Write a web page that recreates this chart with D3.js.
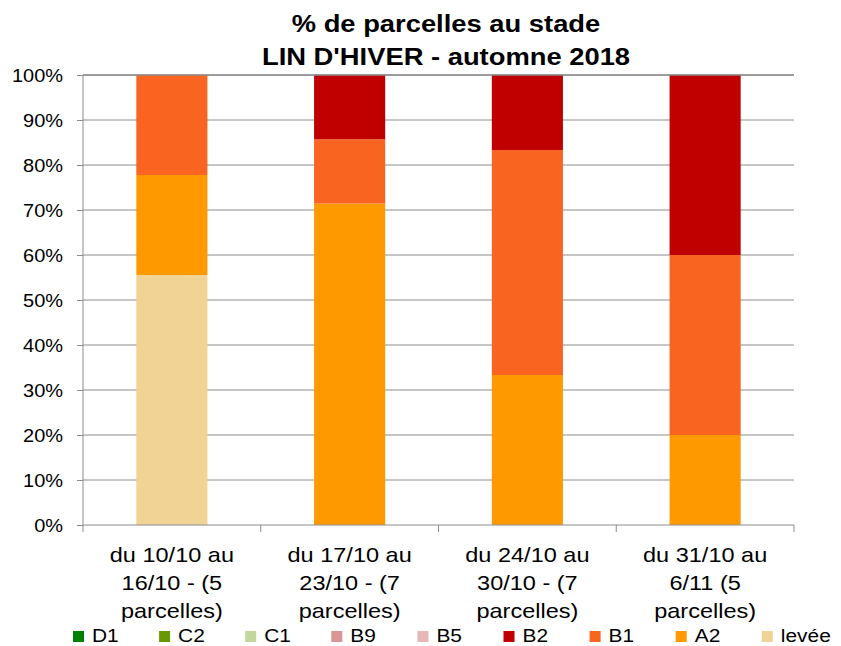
<!DOCTYPE html>
<html><head><meta charset="utf-8">
<script src="https://cdn.jsdelivr.net/npm/d3@7"></script>
<style>body{margin:0;background:#fff;} text{font-family:"Liberation Sans",Arial,sans-serif;}</style>
</head><body>
<svg id="c" width="841" height="646"></svg>
<script>
const categories = [
  ["du 10/10 au", "16/10 - (5", "parcelles)"],
  ["du 17/10 au", "23/10 - (7", "parcelles)"],
  ["du 24/10 au", "30/10 - (7", "parcelles)"],
  ["du 31/10 au", "6/11 (5", "parcelles)"]
];
const seriesNames = ["D1","C2","C1","B9","B5","B2","B1","A2","levée"];
const seriesColors = ["#008000","#669900","#c3d69b","#d99694","#e6b9b8","#c00000","#f96421","#ff9900","#f2d396"];
// values per series (fractions), one per category
const D1 = [0,0,0,0];
const C2 = [0,0,0,0];
const C1 = [0,0,0,0];
const B9 = [0,0,0,0];
const B5 = [0,0,0,0];
const B2 = [0,0.1429,0.1667,0.40];
const B1 = [0.2222,0.1429,0.50,0.40];
const A2 = [0.2222,0.7143,0.3333,0.20];
const levee = [0.5556,0,0,0];
const yTicks = [0,0.1,0.2,0.3,0.4,0.5,0.6,0.7,0.8,0.9,1.0];
const title = ["% de parcelles au stade","LIN D'HIVER - automne 2018"];

const seriesValues = [D1,C2,C1,B9,B5,B2,B1,A2,levee];
const svg = d3.select("#c");
const m = {l:83, r:794, t:75, b:525};
const x = d3.scaleBand().domain(d3.range(categories.length)).range([m.l,m.r]).paddingInner(0.6).paddingOuter(0.3);
const xb = d3.scaleBand().domain(d3.range(categories.length)).range([m.l,m.r]);
const y = d3.scaleLinear().domain([0,1]).range([m.b,m.t]);

// stretched text helper (reference text is horizontally wider than Arial)
function stext(g, tx, ty, str, size, sx, anchor, weight){
  return g.append("text").attr("transform",`translate(${tx},${ty}) scale(${sx},1)`)
    .attr("text-anchor",anchor).attr("font-size",size+"px").attr("font-weight",weight||"normal")
    .attr("fill","#000").text(str);
}

// gridlines
svg.append("g").selectAll("line").data(yTicks.slice(1)).join("line")
  .attr("x1",m.l).attr("x2",m.r).attr("y1",d=>y(d)).attr("y2",d=>y(d))
  .attr("stroke","#8c8c8c").attr("stroke-width",1);

// stacks (bottom: levée, A2, B1, B2, ... D1 on top)
const order = d3.range(seriesNames.length).reverse();
categories.forEach((c,i)=>{
  let cum = 0;
  order.forEach(s=>{
    const v = seriesValues[s][i];
    if(v>0){
      svg.append("rect").attr("x",x(i)).attr("width",x.bandwidth())
        .attr("y",y(cum+v)).attr("height",y(cum)-y(cum+v)).attr("fill",seriesColors[s]);
    }
    cum += v;
  });
});

// top gridline (over bars, slightly heavier)
svg.append("line").attr("x1",m.l).attr("x2",m.r).attr("y1",y(1)).attr("y2",y(1))
  .attr("stroke","#8c8c8c").attr("stroke-width",1.5);

// y axis
const ya = svg.append("g").attr("transform",`translate(${m.l},0)`)
  .call(d3.axisLeft(y).tickValues(yTicks).tickFormat("").tickSize(6));
ya.select(".domain").attr("stroke","#8c8c8c").attr("d",`M-0,${m.b}V${m.t}`);
ya.selectAll(".tick line").attr("stroke","#8c8c8c");
const fmt = d3.format(".0%");
yTicks.forEach(t=>stext(svg, 63, y(t)+6.5, fmt(t), 18, 1.11, "end"));

// x axis
const xa = svg.append("g");
xa.append("line").attr("x1",m.l).attr("x2",m.r).attr("y1",m.b).attr("y2",m.b).attr("stroke","#8c8c8c");
const bounds = d3.range(categories.length).map(i=>xb(i)).concat([m.r]);
xa.selectAll("line.t").data(bounds).join("line").attr("class","t")
  .attr("x1",d=>d).attr("x2",d=>d).attr("y1",m.b).attr("y2",m.b+7).attr("stroke","#8c8c8c");
categories.forEach((c,i)=>{
  c.forEach((ln,k)=>stext(xa, xb(i)+xb.bandwidth()/2, 562+k*28, ln, 21, 1.12, "middle"));
});

// title
title.forEach((t,k)=>stext(svg, 446, 32+k*33, t, 24, 1.14, "middle", "bold"));

// legend
const lg = svg.append("g");
seriesNames.forEach((n,i)=>{
  const lx = 73 + i*86.1;
  lg.append("rect").attr("x",lx).attr("y",631).attr("width",11).attr("height",11).attr("fill",seriesColors[i]);
  stext(lg, lx+19, 641.5, n, 19, 1.1, "start");
});
</script>
</body></html>
